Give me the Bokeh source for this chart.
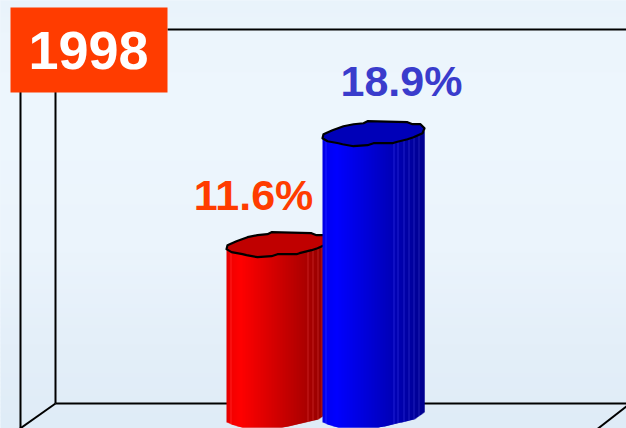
from bokeh.plotting import figure
from bokeh.embed import file_html
from bokeh.resources import INLINE
from bokeh.core.properties import value
from bokeh.models import Range1d
import numpy as np

# ---- data
years = ["1998"]
categories = ["A", "B"]
values = [11.6, 18.9]
labels = ["11.6%", "18.9%"]
side_colors = [(255, 0, 0), (0, 0, 255)]
top_colors = ["#c00000", "#0000b8"]
label_colors = ["#ff3c00", "#3a3ccc"]
box_color = "#ff3c00"

W, H = 626, 428
PX_PER_UNIT = 15.2
ZERO_Y = 420.0
PX_PER_CAT = 96.0
CAT0_X = 277.0

def dx(px):
    return (np.asarray(px, float) - CAT0_X) / PX_PER_CAT

def dy(py):
    return (ZERO_Y - np.asarray(py, float)) / PX_PER_UNIT

p = figure(width=W, height=H, output_backend="svg", toolbar_location=None,
           x_range=Range1d(float(dx(0)), float(dx(W))),
           y_range=Range1d(float(dy(H)), float(dy(0))),
           min_border=0, outline_line_color=None)
p.axis.visible = False
p.grid.visible = False
p.background_fill_color = "#eef6fd"
p.border_fill_color = "#eef6fd"

# background gradient bands
stops_y = [0, 30, 110, 250, 340, 428]
stops_r = [233, 236, 238, 235, 228, 223]
stops_g = [243, 245, 247, 244, 239, 236]
stops_b = [251, 252, 254, 252, 249, 247]
ys = np.arange(0, H, 4)
cols = ["#%02x%02x%02x" % (int(np.interp(y, stops_y, stops_r)), int(np.interp(y, stops_y, stops_g)), int(np.interp(y, stops_y, stops_b))) for y in ys]
p.quad(left=float(dx(0)), right=float(dx(W)), top=dy(ys), bottom=dy(ys + 5), fill_color=cols,
       fill_alpha=1, line_width=0, line_alpha=0)

# walls of the 3D frame
walls_x = [[167, 640], [55, 55], [55, 640], [20, 20], [55, 14], [640, 595]]
walls_y = [[29, 29], [29, 403], [403, 403], [29, 432], [403, 432], [395, 430]]
p.multi_line([dx(a).tolist() for a in walls_x], [dy(a).tolist() for a in walls_y],
             line_color="black", line_width=2)

# rim outline (pixel offsets around the centre of the top)
rim_x = [-51, -50, -41, -30, -20, -10, -6, 34, 39, 47, 51, 49, 40, 34, 22, 19, 0, -6, -20, -31, -35, -46]
rim_y = [5, 1, -3, -7, -9, -10, -12, -11, -9, -9, -5, 0, 4, 6, 9, 10, 10, 12, 13, 11, 10, 8]
base_x = [-50, -46, -36, 4, 10, 27, 40, 50, 51]
base_y = [2, 4, 7, 7, 6, 2, -1, -8, -9]

stripes = [[-47, 30, 35, 40, 44], [-48, 20, 24, 30, 35, 40, 45]]

def gradient(base, off):
    t = np.interp(off, [-51, -47, -37, 51], [0.88, 0.95, 1.0, 0.56])
    return tuple(int(c * t) for c in base)

for i, (v, base, tc) in enumerate(zip(values, side_colors, top_colors)):
    offs = np.arange(-51, 51)
    cx = CAT0_X + i * PX_PER_CAT
    lefts, rights, tops, bots, cc = [], [], [], [], []
    for o in offs:
        c = gradient(base, o + 0.5)
        if o in stripes[i]:
            c = tuple(min(255, x + 30) for x in c)
        lefts.append(float(dx(cx + o)))
        rights.append(float(dx(cx + o + (2 if o < 50 else 1))))
        tops.append(v - float(np.interp(o + 0.5, [-51, -45, 0, 51], [5, 5, 5, -2])) / PX_PER_UNIT)
        bots.append(-float(np.interp(o + 0.5, base_x, base_y)) / PX_PER_UNIT)
        cc.append("#%02x%02x%02x" % c)
    p.quad(left=lefts, right=rights, top=tops, bottom=bots, fill_color=cc,
           fill_alpha=1, line_alpha=0, line_width=0)
    xs = i + np.array(rim_x) / PX_PER_CAT
    ys_ = v - np.array(rim_y) / PX_PER_UNIT
    p.patch(xs, ys_, fill_color=tc, fill_alpha=1, line_color="black", line_width=2.2, line_join="round")

# value labels
label_dx = [-24, 28]
label_dy = [48.7, 52.7]
for i, (v, t, c) in enumerate(zip(values, labels, label_colors)):
    p.text(x=[i + label_dx[i] / PX_PER_CAT], y=[v + label_dy[i] / PX_PER_UNIT], text=[t],
           text_color=c, text_font=value("Liberation Sans"), text_font_style="bold",
           text_font_size="43px", text_align="center", text_baseline="middle")

# year box
p.quad(left=float(dx(10)), right=float(dx(167)), top=float(dy(7)), bottom=float(dy(92)),
       fill_color=box_color, fill_alpha=1, line_alpha=0, line_width=0)
p.text(x=[float(dx(88))], y=[float(dy(50))], text=years, text_color="white",
       text_font=value("Liberation Sans"), text_font_style="bold", text_font_size="54px",
       text_align="center", text_baseline="middle")

html = file_html(p, INLINE)
html = html.replace("</head>", "<style>html,body{margin:0;padding:0;overflow:hidden;background:#eef6fd}</style></head>", 1)
open("out.html", "w").write(html)
